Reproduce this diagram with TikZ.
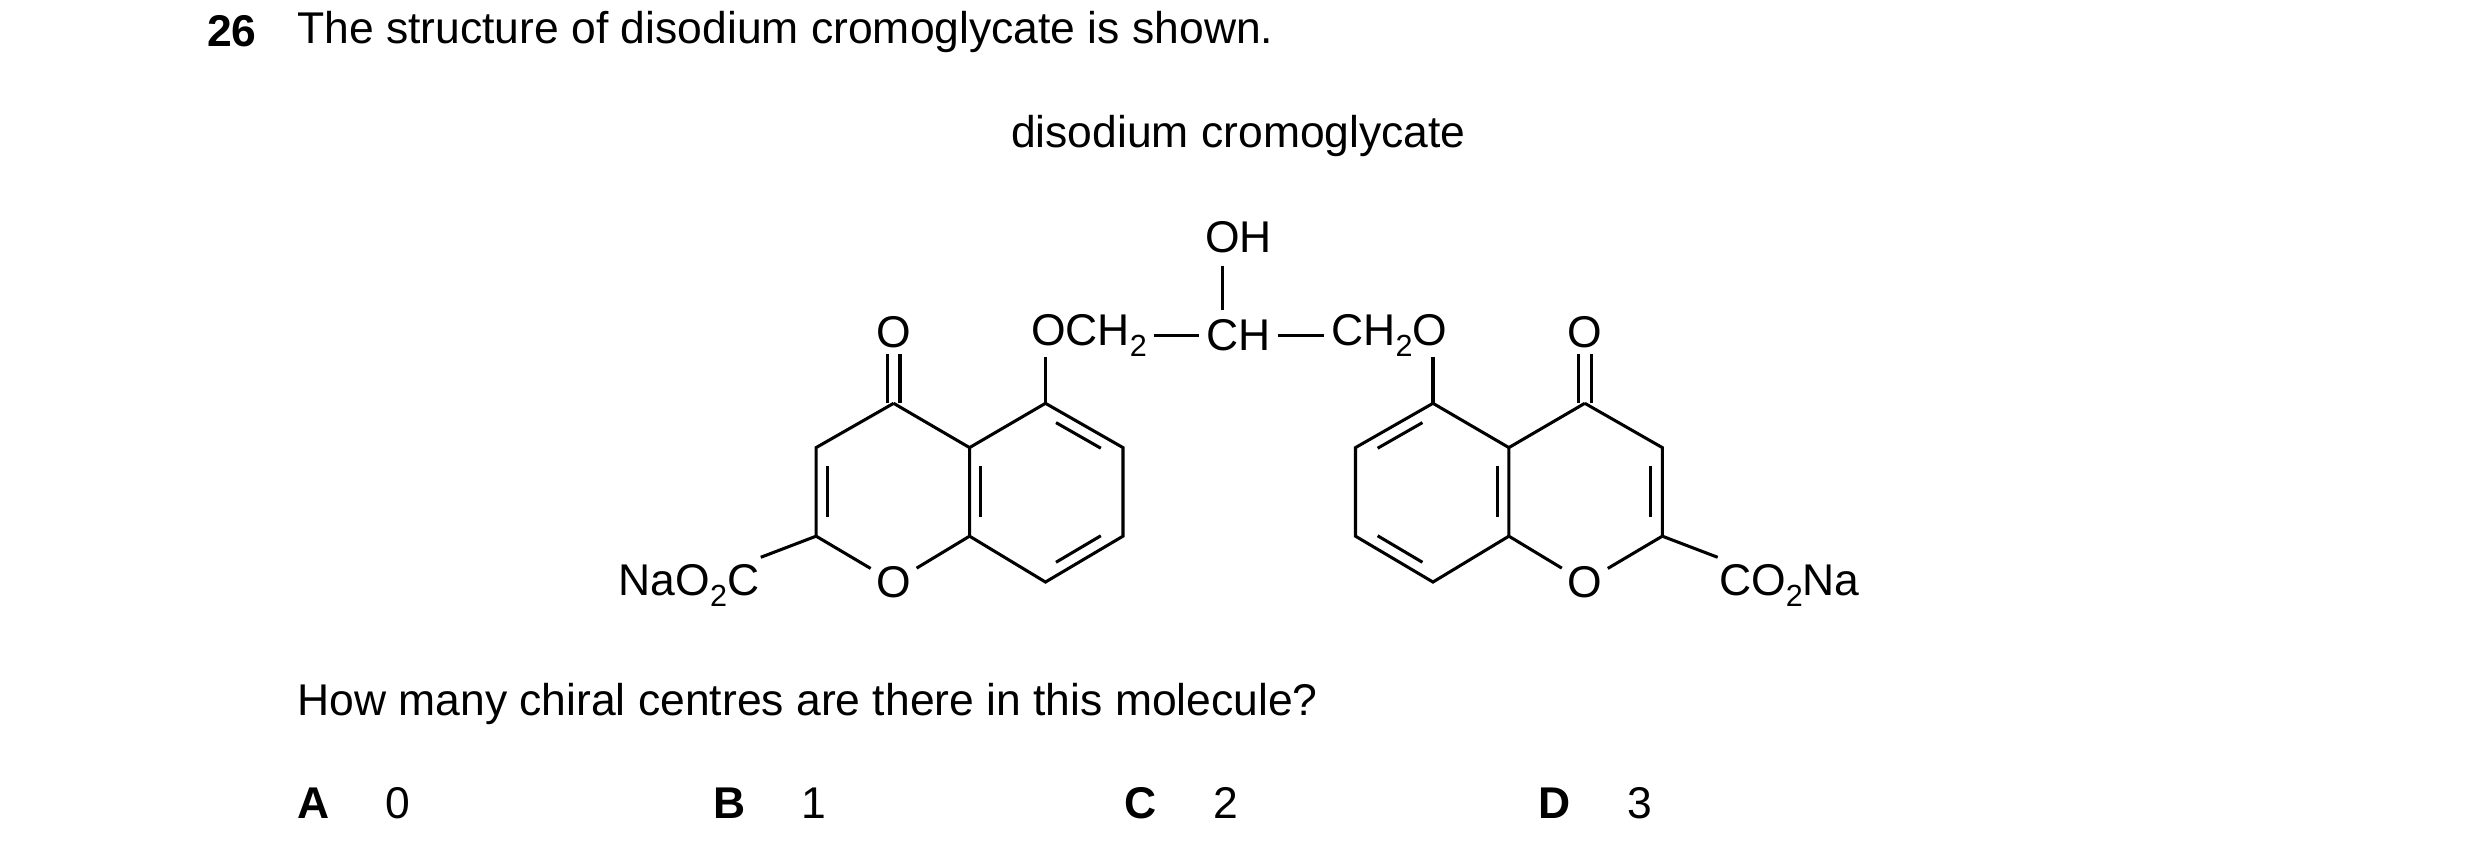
\documentclass[tikz,border=0pt]{standalone}
\usepackage{fontspec}
\setmainfont{Liberation Sans}
\usetikzlibrary{calc}
\newcommand{\dbl}[3]{\draw ($($(#1)!.16!(#2)$)!.15!(#3)$) -- ($($(#1)!.84!(#2)$)!.15!(#3)$);}
\newcommand{\lowtwo}{\raisebox{-0.45ex}{\fontsize{11}{13}\selectfont 2}}
\begin{document}
\begin{tikzpicture}[x=0.02cm,y=-0.02cm,line width=1.1pt,
  txt/.style={font=\fontsize{16}{19}\selectfont,inner sep=0pt},
  atom/.style={txt,inner sep=1.5pt}]
\useasboundingbox (0,0) rectangle (1568,543);

% text
\node[txt,anchor=west] (num) at (130,20) {\textbf{26}};
\node[txt,anchor=west] (stem) at (187,20) {The structure of disodium cromoglycate is shown.};
\node[txt] (title) at (783,86) {disodium cromoglycate};
\node[txt,anchor=west] (ques) at (187,445) {How many chiral centres are there in this molecule?};
\foreach \l/\v/\x in {A/0/187,B/1/450,C/2/710,D/3/972} {
  \node[txt,anchor=west] (opt\l) at (\x,508) {\textbf{\l}};
  \node[txt,anchor=west] (val\l) at (\x+56,508) {\v};
}

% left ring system
\coordinate (l1) at (565,255); \coordinate (l2) at (516,283);
\coordinate (l3) at (516,339); \coordinate (l5) at (613,339);
\coordinate (l6) at (613,283); \coordinate (l7) at (661,255);
\coordinate (l8) at (710,283); \coordinate (l9) at (710,339);
\coordinate (l10) at (661,368);
\coordinate (lc) at (565,311); \coordinate (lb) at (661,311);
\node[atom] (lO) at (565,368) {O};
\node[atom] (lOk) at (565,210) {O};
\draw (l1) -- (l2) -- (l3) -- (lO) -- (l5) -- (l6) -- (l1);
\draw (l6) -- (l7) -- (l8) -- (l9) -- (l10) -- (l5);
\dbl{l2}{l3}{lc} \dbl{l6}{l5}{lb} \dbl{l7}{l8}{lb} \dbl{l9}{l10}{lb}
\draw ([xshift=-2.3pt]l1) -- ([xshift=-2.3pt]lOk.south);
\draw ([xshift=2.3pt]l1) -- ([xshift=2.3pt]lOk.south);
\node[txt,anchor=east] (lna) at (481,370) {NaO\lowtwo C};
\draw (l3) -- ([yshift=2pt]lna.north east);

% right ring system
\coordinate (r1) at (1002,255); \coordinate (r2) at (1051,283);
\coordinate (r3) at (1051,339); \coordinate (r5) at (954,339);
\coordinate (r6) at (954,283); \coordinate (r7) at (906,255);
\coordinate (r8) at (857,283); \coordinate (r9) at (857,339);
\coordinate (r10) at (906,368);
\coordinate (rc) at (1002,311); \coordinate (rb) at (906,311);
\node[atom] (rO) at (1002,368) {O};
\node[atom] (rOk) at (1002,210) {O};
\draw (r1) -- (r2) -- (r3) -- (rO) -- (r5) -- (r6) -- (r1);
\draw (r6) -- (r7) -- (r8) -- (r9) -- (r10) -- (r5);
\dbl{r2}{r3}{rc} \dbl{r6}{r5}{rb} \dbl{r7}{r8}{rb} \dbl{r9}{r10}{rb}
\draw ([xshift=-2.3pt]r1) -- ([xshift=-2.3pt]rOk.south);
\draw ([xshift=2.3pt]r1) -- ([xshift=2.3pt]rOk.south);
\node[txt,anchor=west] (rna) at (1086,370) {CO\lowtwo Na};
\draw (r3) -- ([yshift=2pt]rna.north west);

% side chain
\node[txt,anchor=west] (och) at (651,212) {OCH\lowtwo};
\node[txt] (ch) at (783,212) {CH};
\node[txt,anchor=east] (cho) at (916,212) {CH\lowtwo O};
\node[txt] (oh) at (783,150) {OH};
\draw (l7) -- (661,226);
\draw (r7) -- (906,226);
\draw ([xshift=2pt]och.east) -- ([xshift=-2pt]ch.west);
\draw ([xshift=2pt]ch.east) -- ([xshift=-2pt]cho.west);
\draw ([xshift=-5.7pt,yshift=-4pt]oh.south) -- ([xshift=-5.7pt,yshift=3pt]ch.north);
\end{tikzpicture}
\end{document}
